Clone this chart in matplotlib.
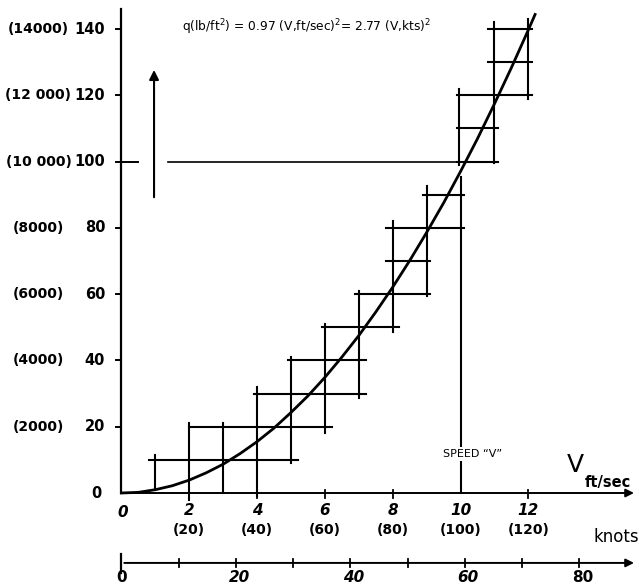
import numpy as np
import matplotlib.pyplot as plt

# q (lb/ft^2 / 100) against V (10 ft/sec)
v_curve = [0, 0.5, 1, 1.5, 2, 2.5, 3, 3.5, 4, 4.5, 5, 5.5, 6, 6.5, 7, 7.5,
           8, 8.5, 9, 9.5, 10, 10.5, 11, 11.5, 12, 12.2]
q_curve = [0, 0.2, 1.0, 2.2, 3.9, 6.1, 8.7, 11.9, 15.5, 19.6, 24.3, 29.3, 34.9,
           41.0, 47.5, 54.6, 62.1, 70.1, 78.6, 87.5, 97.0, 106.9, 117.4, 128.3,
           139.7, 144.4]

# staircase: horizontal strokes (level, from, to) and vertical strokes (V, from, to)
h_level = [10, 20, 30, 40, 50, 60, 70, 80, 90, 100, 110, 120, 130, 140]
h_from = [0.8, 2.0, 3.9, 4.9, 5.9, 6.9, 7.8, 7.8, 8.9, 9.9, 9.9, 9.9, 10.8, 10.8]
h_to = [5.2, 6.2, 7.2, 7.2, 8.2, 9.1, 9.1, 10.1, 10.1, 11.1, 11.1, 12.1, 12.1, 12.1]
v_pos = [1, 2, 3, 4, 5, 6, 7, 8, 9, 9.95, 11, 12]
v_from = [1.5, -2, 0, -1, 9, 18, 28.6, 48.6, 59.5, 99, 99.5, 119]
v_to = [11.5, 21, 21, 32, 41, 51, 61, 82, 92.5, 122, 142, 143]

y_ticks = [20, 40, 60, 80, 100, 120, 140]
y_labels = ['20', '40', '60', '80', '100', '120', '140']
y_paren = ['(2000)', '(4000)', '(6000)', '(8000)', '(10 000)', '(12 000)', '(14000)']
x_ticks = [2, 4, 6, 8, 10, 12]
x_labels = ['2', '4', '6', '8', '10', '12']
x_paren = ['(20)', '(40)', '(60)', '(80)', '(100)', '(120)']
knot_ticks = [10, 20, 30, 40, 50, 60, 70, 80]
knot_labels = ['0', '20', '40', '60', '80']
knot_label_vals = [0, 20, 40, 60, 80]
kt = 0.1688  # 1 knot in units of 10 ft/sec

fig = plt.figure(figsize=(6.39, 5.87), dpi=100)
ax = fig.add_axes([0, 0, 1, 1])
ax.set_xlim(-121.5 / 33.9, (639 - 121.5) / 33.9)
ax.set_ylim((493 - 587) / 3.314, 493 / 3.314)
ax.axis('off')

k = 'black'
# axes
ax.plot([0, 0], [0, 146], color=k, lw=1.6)
ax.annotate('', xy=(15.2, 0), xytext=(0, 0),
            arrowprops=dict(arrowstyle='-|>', color=k, lw=1.4, mutation_scale=12))
ax.annotate('', xy=(15.2, -21.1), xytext=(0, -21.1),
            arrowprops=dict(arrowstyle='-|>', color=k, lw=1.4, mutation_scale=12))
ax.plot([0, 0], [-18.4, -24.1], color=k, lw=1.6)

for y in y_ticks:
    ax.plot([-0.15, 0.5 if y == 100 else 0], [y, y], color=k, lw=1.4)
for x in [2, 4, 6, 8, 12]:
    ax.plot([x, x], [-1.5, 0.8], color=k, lw=1.3)
for kk in knot_ticks:
    ax.plot([kk * kt, kk * kt], [-22.4, -19.9], color=k, lw=1.3)

# staircase
for y, a, b in zip(h_level, h_from, h_to):
    ax.plot([a, b], [y, y], color=k, lw=1.5)
for x, a, b in zip(v_pos, v_from, v_to):
    ax.plot([x, x], [a, b], color=k, lw=1.5)

# speed line and 100 line
ax.plot([10, 10], [0, 95.5], color=k, lw=1.5)
ax.plot([1.38, 9.9], [100, 100], color=k, lw=1.2)
ax.annotate('', xy=(0.96, 128.5), xytext=(0.96, 88.4),
            arrowprops=dict(arrowstyle='-|>', color=k, lw=1.5, mutation_scale=14))

# curve
ax.plot(v_curve, q_curve, color=k, lw=2.0)

# labels
for y, lab, par in zip(y_ticks, y_labels, y_paren):
    ax.text(-0.48, y, lab, ha='right', va='center', fontsize=10.5, fontweight='bold')
    ax.text(-2.45, y, par, ha='center', va='center', fontsize=10, fontweight='bold')
ax.text(-0.75, 0, '0', ha='center', va='center', fontsize=10.5, fontweight='bold')

ax.text(0.05, -6, '0', ha='center', va='center', fontsize=11, fontweight='bold', style='italic')
for x, lab, par in zip(x_ticks, x_labels, x_paren):
    ax.text(x, -5.4, lab, ha='center', va='center', fontsize=11, fontweight='bold', style='italic')
    ax.text(x, -11.2, par, ha='center', va='center', fontsize=10, fontweight='bold')

for v, lab in zip(knot_label_vals, knot_labels):
    ax.text(v * kt + (0.1 if v else 0), -25.6, lab, ha='center', va='center',
            fontsize=11, fontweight='bold', style='normal' if v in (0, 80) else 'italic')

ax.text(10.37, 11.8, 'SPEED \u201cV\u201d', ha='center', va='center', fontsize=8,
        bbox=dict(facecolor='white', edgecolor='none', pad=1.5))
ax.text(1.78, 140.6, 'q(lb/ft$^2$) = 0.97 (V,ft/sec)$^2$= 2.77 (V,kts)$^2$',
        ha='left', va='center', fontsize=8.8)
ax.text(13.4, 8.4, 'V', ha='center', va='center', fontsize=18)
ax.text(14.35, 3.3, 'ft/sec', ha='center', va='center', fontsize=10.5, fontweight='bold')
ax.text(14.6, -13.3, 'knots', ha='center', va='center', fontsize=12)

fig.savefig('out.png', dpi=100)
